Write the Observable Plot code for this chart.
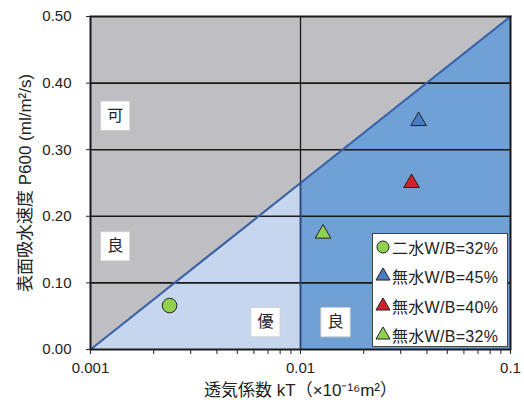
<!DOCTYPE html>
<html>
<head>
<meta charset="utf-8">
<script src="https://cdn.jsdelivr.net/npm/d3@7"></script>
<script src="https://cdn.jsdelivr.net/npm/@observablehq/plot@0.6"></script>
<style>
  body { margin: 0; background: #fff; }
  #wrap { position: relative; width: 524px; height: 403px; font-family: "Liberation Sans", Arial, "Noto Sans CJK JP", sans-serif; }
  #legend { position: absolute; left: 372px; top: 233px; width: 136px; height: 114px; background: #fff; border: 1px solid #444; box-sizing: border-box; padding-top: 0px; }
  #legend .row { display: flex; align-items: center; height: 29.5px; padding-left: 2px; font-size: 16px; color: #222; letter-spacing: 0.3px; }
  #legend .row:first-child { margin-top: -2px; }
  #legend svg { margin-right: 1px; }
</style>
</head>
<body>
<div id="wrap"></div>
<script>
// ---- data ----
const xMajorTicks = [0.001, 0.01, 0.1];
const xMinorTicks = [0.002,0.003,0.004,0.005,0.006,0.007,0.008,0.009,0.02,0.03,0.04,0.05,0.06,0.07,0.08,0.09];
const yTicks = [0, 0.1, 0.2, 0.3, 0.4, 0.5];
const yGrid = [0.1, 0.2, 0.3, 0.4];
const xGrid = [0.01];

// zone boundaries (kT, P600)
const diagonal = [[0.001, 0], [0.01, 0.25], [0.1, 0.5]];
const zoneExcellent = [[0.001, 0], [0.01, 0.25]];
const zoneGoodRight = [[0.01, 0.25], [0.1, 0.5]];
const boundaryV = [[0.01, 0], [0.01, 0.25]];

// zone labels
const zoneLabels = ["可", "良", "優", "良"];
const zoneLabelX = [0.00131, 0.00131, 0.00681, 0.01468];
const zoneLabelY = [0.351, 0.155, 0.041, 0.041];

// series
const seriesNames = ["二水W/B=32%", "無水W/B=45%", "無水W/B=40%", "無水W/B=32%"];
const seriesKT = [0.00238, 0.0365, 0.0338, 0.0128];
const seriesP600 = [0.066, 0.343, 0.250, 0.174];
const seriesSymbols = ["circle", "triangle", "triangle", "triangle"];
const seriesColors = ["#92d050", "#4a7cc4", "#d0202a", "#92d050"];

// ---- build ----
const pts = seriesNames.map((n, i) => ({name: n, x: seriesKT[i], y: seriesP600[i], symbol: seriesSymbols[i], color: seriesColors[i]}));
const circles = pts.filter(d => d.symbol === "circle");
const triangles = pts.filter(d => d.symbol === "triangle");
const labels = zoneLabels.map((t, i) => ({t, x: zoneLabelX[i], y: zoneLabelY[i]}));

const gray = "#bfbfc3";
const midBlue = "#6fa0d6";
const lightBlue = "#c6d6ee";
const lineBlue = "#3a62a6";

const chart = Plot.plot({
  width: 524,
  height: 403,
  marginLeft: 90,
  marginRight: 14,
  marginTop: 16,
  marginBottom: 54,
  style: {fontFamily: '"Liberation Sans", Arial, "Noto Sans CJK JP", sans-serif', fontSize: "15px", color: "#222", background: "#fff"},
  x: {type: "log", domain: [0.001, 0.1]},
  y: {domain: [0, 0.5]},
  marks: [
    Plot.frame({fill: gray, stroke: null}),
    Plot.areaY(zoneExcellent, {x: d => d[0], y1: 0, y2: d => d[1], fill: lightBlue, curve: "linear"}),
    Plot.areaY(zoneGoodRight, {x: d => d[0], y1: 0, y2: d => d[1], fill: midBlue, curve: "linear"}),
    Plot.ruleY(yGrid, {stroke: "#1a1a1a", strokeWidth: 1.6}),
    Plot.ruleX(xGrid, {stroke: "#1a1a1a", strokeWidth: 1.3}),
    Plot.line(diagonal, {x: d => d[0], y: d => d[1], stroke: lineBlue, strokeWidth: 2.2}),
    Plot.line(boundaryV, {x: d => d[0], y: d => d[1], stroke: "#2a4a7e", strokeWidth: 1.6}),
    Plot.frame({stroke: "#1a1a1a", strokeWidth: 2}),
    Plot.axisY(yTicks, {tickSize: 4, tickPadding: 15, tickFormat: d3.format(".2f"), label: null, fontSize: 15}),
    Plot.axisX(xMinorTicks, {tickSize: 5, tickFormat: () => "", label: null}),
    Plot.axisX(xMajorTicks, {tickSize: 5, tickPadding: 8, tickFormat: d => String(d), label: null, fontSize: 15}),
    Plot.dot(labels, {x: "x", y: "y", symbol: "square", r: 16.5, fill: "#fff", stroke: "#cfcfcf", strokeWidth: 1}),
    Plot.text(labels, {x: "x", y: "y", text: "t", fontSize: 16, fill: "#222", fontFamily: '"Noto Sans CJK JP", sans-serif'}),
    Plot.dot(circles, {x: "x", y: "y", symbol: "circle", fill: "color", stroke: "#222", strokeWidth: 1, r: 7.3}),
    Plot.dot(triangles, {x: "x", y: "y", symbol: "triangle", fill: "color", stroke: "#222", strokeWidth: 1, r: 5.8}),
    Plot.text(["表面吸水速度 P600 (ml/m²/s)"], {frameAnchor: "left", textAnchor: "middle", dx: -65, rotate: -90, fontSize: 17, fill: "#222", letterSpacing: "0.8px"}),
    Plot.text(["透気係数 kT（×10⁻¹⁶m²）"], {frameAnchor: "bottom", dy: 46, fontSize: 17, fill: "#222", letterSpacing: "0.4px"})
  ]
});

const wrap = document.getElementById("wrap");
wrap.appendChild(chart);

// legend
const legend = document.createElement("div");
legend.id = "legend";
seriesNames.forEach((n, i) => {
  const row = document.createElement("div");
  row.className = "row";
  const sym = seriesSymbols[i] === "circle" ? d3.symbolCircle : d3.symbolTriangle;
  const size = seriesSymbols[i] === "circle" ? Math.PI * 6 * 6 : Math.PI * 5.2 * 5.2;
  row.innerHTML = `<svg width="16" height="16" viewBox="-8 -8 16 16"><path d="${d3.symbol(sym, size)()}" fill="${seriesColors[i]}" stroke="#222" stroke-width="1"/></svg><span>${n}</span>`;
  legend.appendChild(row);
});
wrap.appendChild(legend);
</script>
</body>
</html>
